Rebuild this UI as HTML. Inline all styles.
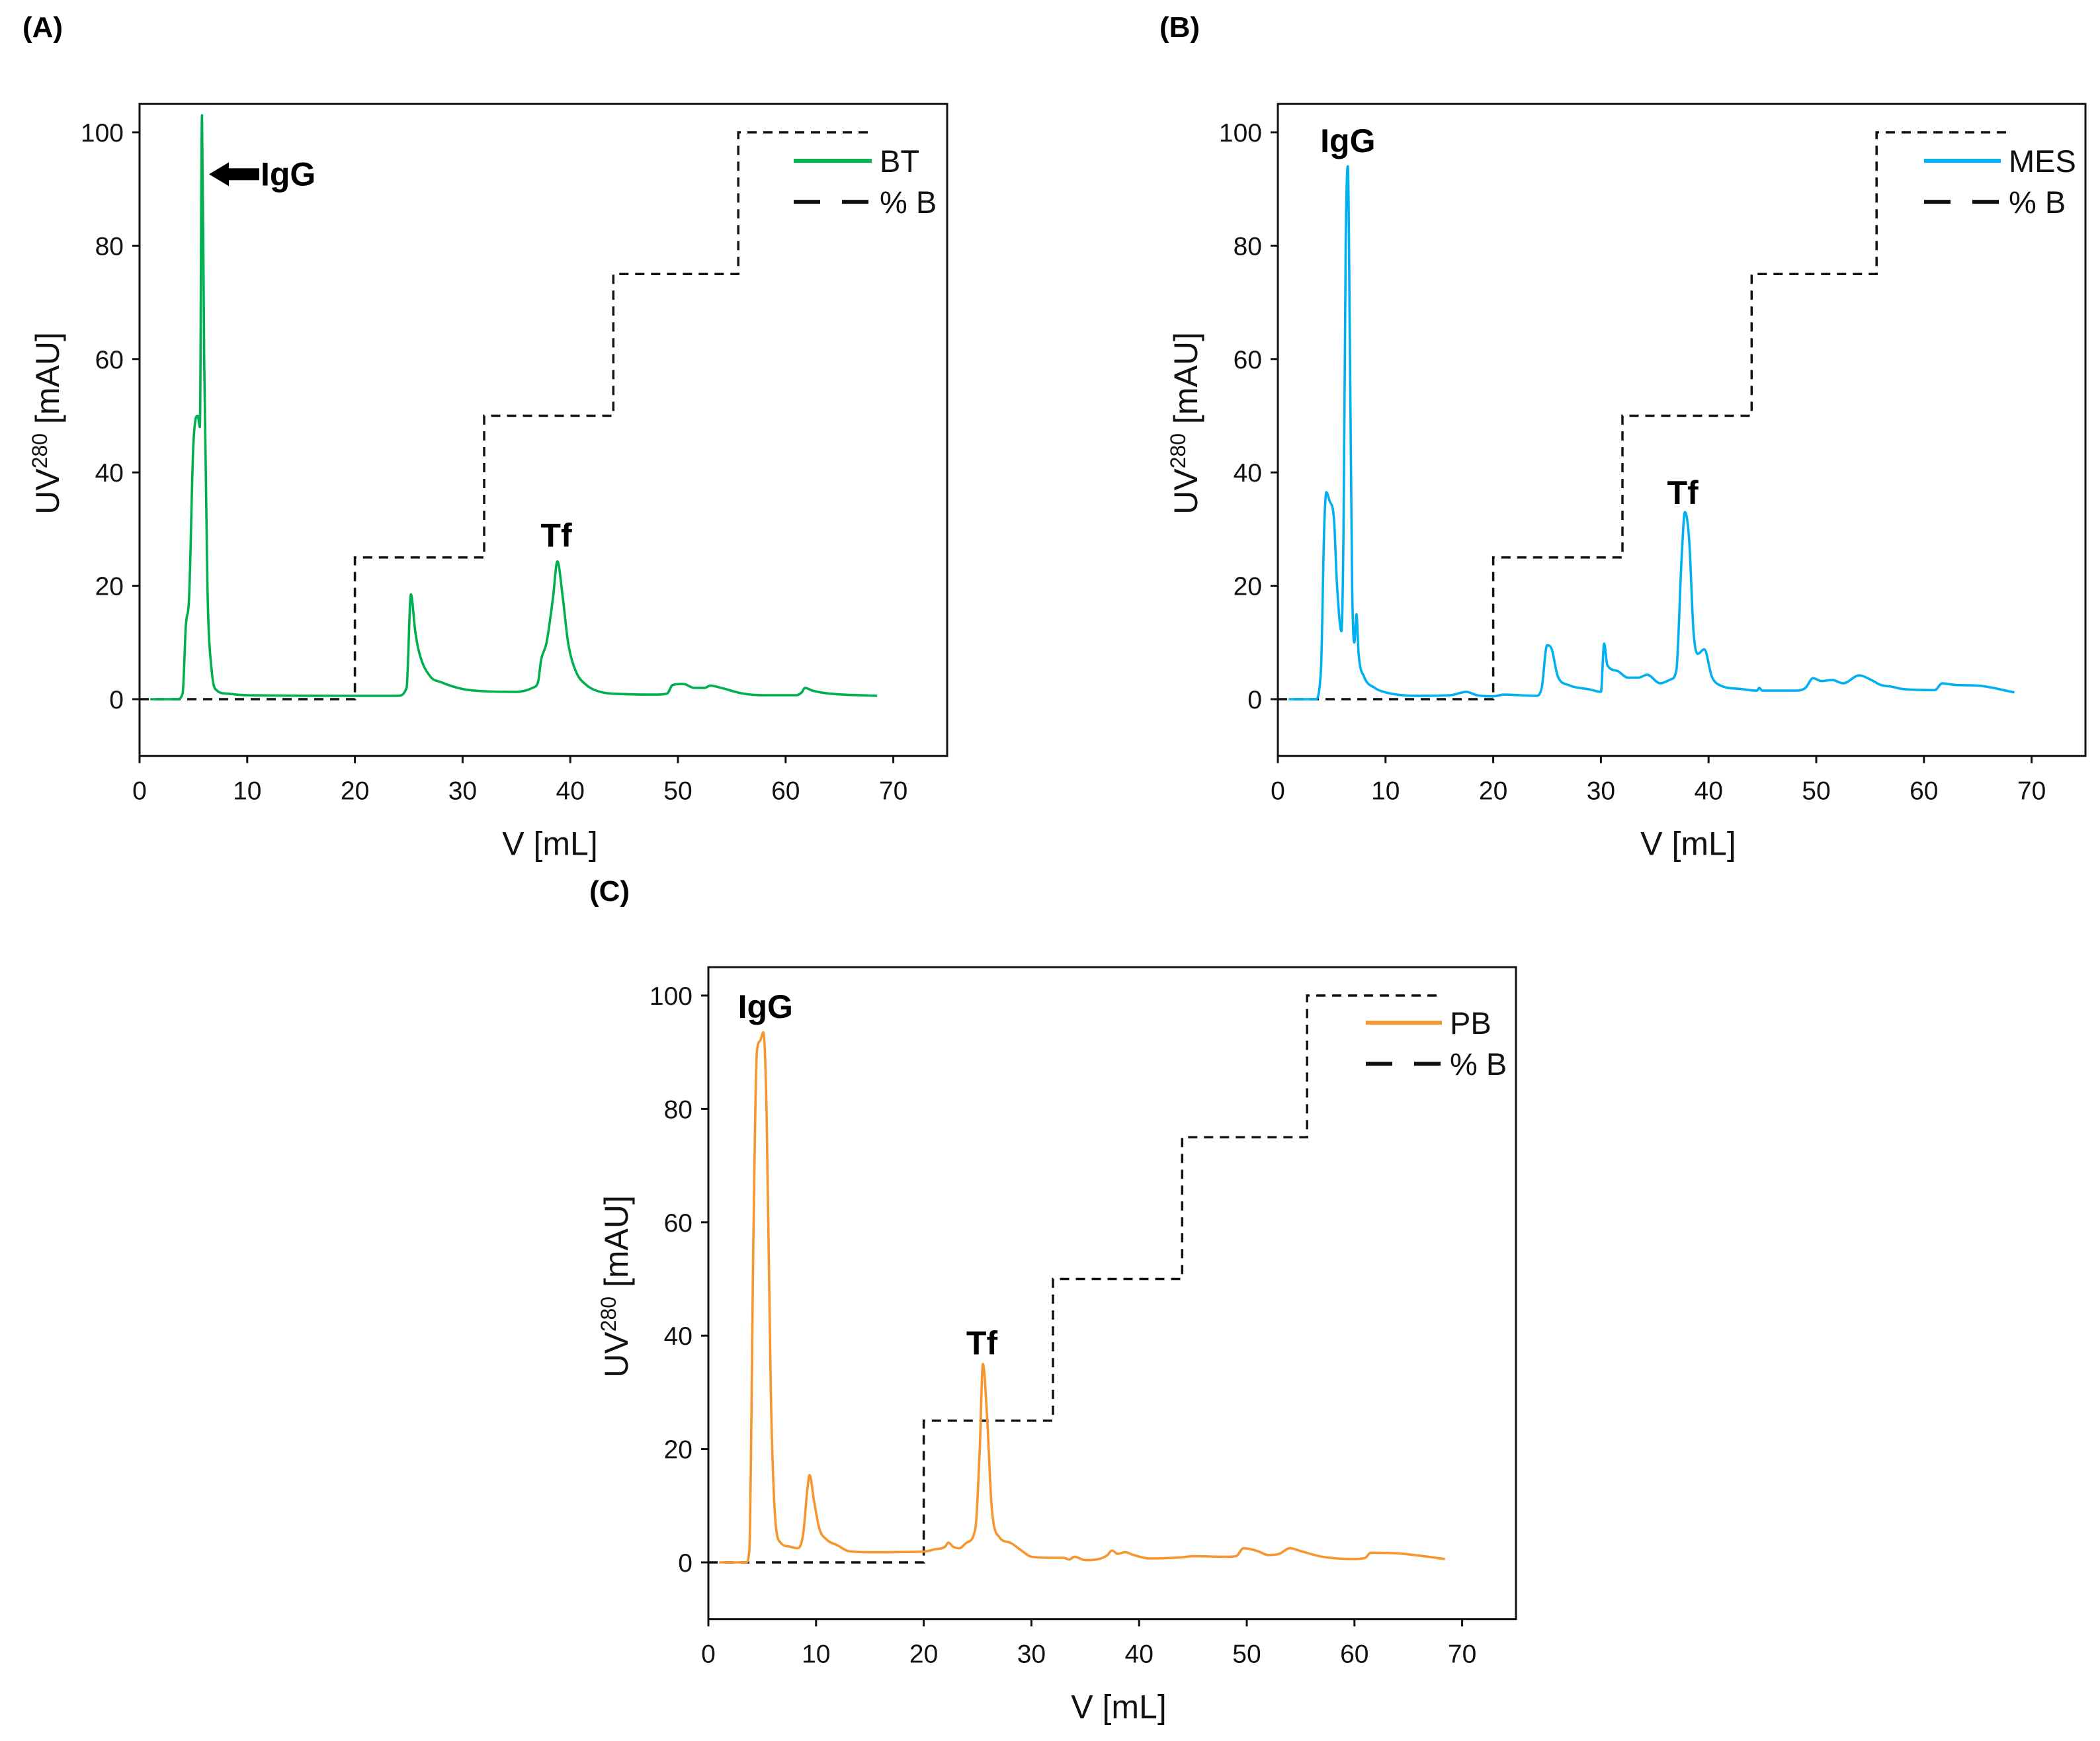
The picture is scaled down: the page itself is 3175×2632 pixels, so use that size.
<!DOCTYPE html>
<html><head><meta charset="utf-8"><style>
html,body{margin:0;padding:0;background:#fff;}
svg{display:block;font-family:"Liberation Sans",Arial,sans-serif;}
</style></head><body>
<svg id="fig" width="3175" height="2632" viewBox="0 0 3175 2632" xmlns="http://www.w3.org/2000/svg"></svg>
<script>
const xTicks=[0,10,20,30,40,50,60,70];
const yTicks=[0,20,40,60,80,100];
const gradX=[0,20,20,32,32,44,44,55.6,55.6,68];
const gradY=[0,0,25,25,50,50,75,75,100,100];
const btX=[1,3.5,4,4.3,4.6,5.0,5.4,5.6,5.8,6.0,6.3,6.7,7.2,8,10,20,24,24.8,25.2,25.6,26,27,28,30,32,35,36.5,37,37.3,37.8,38.4,38.8,39.3,39.8,40.5,41.5,43,45,48,49,49.5,50.5,51.5,52.5,53,54,56,58,61,61.5,61.8,62.5,64,68.5];
const btY=[0,0,1,13,18,45,50,48,103,60,20,5,1.5,1,0.7,0.6,0.6,2,18.5,12,8,4,3,1.8,1.4,1.3,2,3,7,10,18,24.3,18,10,5,2.5,1.2,0.9,0.8,1,2.5,2.7,2,2,2.4,2,1,0.7,0.7,1.2,2,1.5,1,0.6];
const mesX=[1,3.5,4,4.3,4.5,4.8,5.2,5.5,5.9,6.1,6.3,6.5,6.7,6.9,7.1,7.3,7.5,8,9,10,13,16,17.5,18.5,20,21,24,24.5,25,25.4,26,27,29,30,30.3,30.6,31.5,32.5,33.5,34.3,35.5,36.5,37,37.5,37.8,38.2,38.6,39,39.6,40.3,41,43,44.5,44.7,45,48,49,49.7,50.5,51.5,52.5,54,55,56,57,58,61,61.7,63,65,68.4];
const mesY=[0,0,5,30,36.5,35,32,20,12,30,80,94,60,20,10,15,8,4,2,1.2,0.6,0.7,1.3,0.7,0.5,0.8,0.6,2,9.5,9,4,2.5,1.7,1.3,9.8,6,5,3.8,3.8,4.3,2.8,3.5,5,25,33,28,12,8,8.8,4,2.5,1.8,1.5,2,1.5,1.5,2,3.7,3.2,3.4,2.8,4.2,3.5,2.5,2.2,1.8,1.6,2.8,2.5,2.4,1.2];
const pbX=[1,3.5,3.8,4.2,4.5,4.8,5.1,5.4,5.8,6.2,6.7,7.5,8.3,8.8,9.2,9.4,9.8,10.3,11,12,13,15,20,21,22,22.3,22.7,23.3,24,24.8,25.2,25.5,25.9,26.3,27,28,29,30,32,33,33.5,34,35,36,37,37.5,38,38.7,39.5,41,44,45,48,49,49.7,51,52,53,54,55,57,60,61,61.5,64,66,68.4];
const pbY=[0,0,2,60,90,92,93.5,80,30,8,3.5,2.8,2.5,5,13,15.4,11,6,4,3,2,1.8,1.9,2.3,2.8,3.5,2.8,2.5,3.5,6,20,35,25,10,4.5,3.5,2.2,1,0.8,0.8,0.5,1,0.4,0.5,1.2,2.1,1.5,1.8,1.3,0.7,0.9,1.1,1,1.1,2.5,2,1.3,1.5,2.5,2,1,0.6,0.8,1.7,1.6,1.2,0.6];

const NS="http://www.w3.org/2000/svg";
const svg=document.getElementById('fig');
function mk(tag,attrs,parent){const e=document.createElementNS(NS,tag);for(const k in attrs)e.setAttribute(k,attrs[k]);(parent||svg).appendChild(e);return e;}
function monotonePath(px,py){
 const n=px.length;const d=[],m=new Array(n);
 for(let i=0;i<n-1;i++)d.push((py[i+1]-py[i])/(px[i+1]-px[i]));
 m[0]=d[0];m[n-1]=d[n-2];
 for(let i=1;i<n-1;i++){m[i]=(d[i-1]*d[i]<=0)?0:(d[i-1]+d[i])/2;}
 for(let i=0;i<n-1;i++){if(d[i]===0){m[i]=0;m[i+1]=0;continue;}const a=m[i]/d[i],b=m[i+1]/d[i],s=a*a+b*b;if(s>9){const t=3/Math.sqrt(s);m[i]=t*a*d[i];m[i+1]=t*b*d[i];}}
 let p='M'+px[0].toFixed(1)+','+py[0].toFixed(1);
 for(let i=0;i<n-1;i++){const h=(px[i+1]-px[i])/3;
  p+='C'+(px[i]+h).toFixed(1)+','+(py[i]+m[i]*h).toFixed(1)+' '+(px[i+1]-h).toFixed(1)+','+(py[i+1]-m[i+1]*h).toFixed(1)+' '+px[i+1].toFixed(1)+','+py[i+1].toFixed(1);}
 return p;
}
const XS=16.28, YS=8.57;
const panels=[
 {id:'a',label:'(A)',lx:34,ly:56,x0:211,y0:1057,xs:btX,ys:btY,color:'#00b050',name:'BT',leg:[-232,-114,86],
  igg:{arrow:true},tf:[38.7,28.9],iggPos:[6.45,92.6]},
 {id:'b',label:'(B)',lx:1753,ly:56,x0:1932,y0:1057,xs:mesX,ys:mesY,color:'#00b0f0',name:'MES',leg:[-244,-128,86],
  iggPos:[6.5,98.5],tf:[37.6,36.4]},
 {id:'c',label:'(C)',lx:891,ly:1362,x0:1071,y0:2362,xs:pbX,ys:pbY,color:'#f7962f',name:'PB',leg:[-227,-112,84],
  iggPos:[5.3,98],tf:[25.4,38.7]}
];
panels.forEach(p=>{
 const g=mk('g',{});
 
 
 const X=v=>p.x0+v*XS, Y=v=>p.y0-v*YS;
 const L=X(0),R=X(75),T=Y(105),B=Y(-10);
 const lab=mk('text',{x:p.lx,y:p.ly,'font-size':44,'font-weight':'bold'},g);lab.textContent=p.label;
 
 
 let d='';gradX.forEach((v,i)=>{d+=(i?'L':'M')+X(v).toFixed(1)+','+Y(gradY[i]).toFixed(1);});
 const gp=mk('path',{d:d,fill:'none',stroke:'#111','stroke-width':3.5,'stroke-dasharray':'14 10'},g);
 
 
 const sp=mk('path',{d:monotonePath(p.xs.map(X),p.ys.map(Y)),fill:'none',stroke:p.color,'stroke-width':3.6,'stroke-linejoin':'round'},g);
 
 
 const fr=mk('rect',{x:L,y:T,width:R-L,height:B-T,fill:'none',stroke:'#111','stroke-width':3},g);
 
 
 xTicks.forEach(t=>{
  mk('line',{x1:X(t),x2:X(t),y1:B,y2:B+11,stroke:'#111','stroke-width':3},g);
  const tx=mk('text',{x:X(t),y:B+66,'font-size':39,'text-anchor':'middle',fill:'#111'},g);tx.textContent=t;
  
  
 });
 yTicks.forEach(t=>{
  mk('line',{x1:L-11,x2:L,y1:Y(t),y2:Y(t),stroke:'#111','stroke-width':3},g);
  const ty=mk('text',{x:L-24,y:Y(t)+14,'font-size':39,'text-anchor':'end',fill:'#111'},g);ty.textContent=t;
  
  
 });
 const xt=mk('text',{x:(L+R)/2+10,y:B+150,'font-size':50,'text-anchor':'middle',fill:'#111'},g);xt.textContent='V [mL]';
 
 
 const cy=(T+B)/2-10, cx=L-122;
 const yt=mk('text',{x:0,y:0,'font-size':50,'text-anchor':'middle',fill:'#111',transform:`translate(${cx},${cy}) rotate(-90)`},g);
 
 
 const t1=mk('tspan',{},yt);t1.textContent='UV';
 const t2=mk('tspan',{'font-size':32,dy:-18},yt);t2.textContent='280';
 const t3=mk('tspan',{dy:18},yt);t3.textContent=' [mAU]';
 const ly=T+p.leg[2];
 mk('line',{x1:R+p.leg[0],x2:R+p.leg[1],y1:ly,y2:ly,stroke:p.color,'stroke-width':6},g);
 const lt=mk('text',{x:R+p.leg[1]+12,y:ly+17,'font-size':47,fill:'#111'},g);lt.textContent=p.name;
 
 
 mk('line',{x1:R+p.leg[0],x2:R+p.leg[1],y1:ly+62,y2:ly+62,stroke:'#111','stroke-width':6,'stroke-dasharray':'40 33'},g);
 const lb=mk('text',{x:R+p.leg[1]+12,y:ly+79,'font-size':47,fill:'#111'},g);lb.textContent='% B';
 
 
 if(p.igg&&p.igg.arrow){
  const ax=X(p.iggPos[0]),ay=Y(p.iggPos[1]);
  mk('path',{d:`M${ax},${ay} L${ax+30},${ay-18} L${ax+30},${ay-9} L${ax+76},${ay-9} L${ax+76},${ay+9} L${ax+30},${ay+9} L${ax+30},${ay+18} Z`,fill:'#000'},g);
  const it=mk('text',{x:ax+78,y:ay+17,'font-size':50,'font-weight':'bold'},g);it.textContent='IgG';
  
  
 } else {
  const it=mk('text',{x:X(p.iggPos[0]),y:Y(p.iggPos[1])+17,'font-size':50,'font-weight':'bold','text-anchor':'middle'},g);it.textContent='IgG';
  
  
 }
 const tf=mk('text',{x:X(p.tf[0]),y:Y(p.tf[1])+17,'font-size':50,'font-weight':'bold','text-anchor':'middle'},g);tf.textContent='Tf';
 
 
});
</script>
</body></html>
